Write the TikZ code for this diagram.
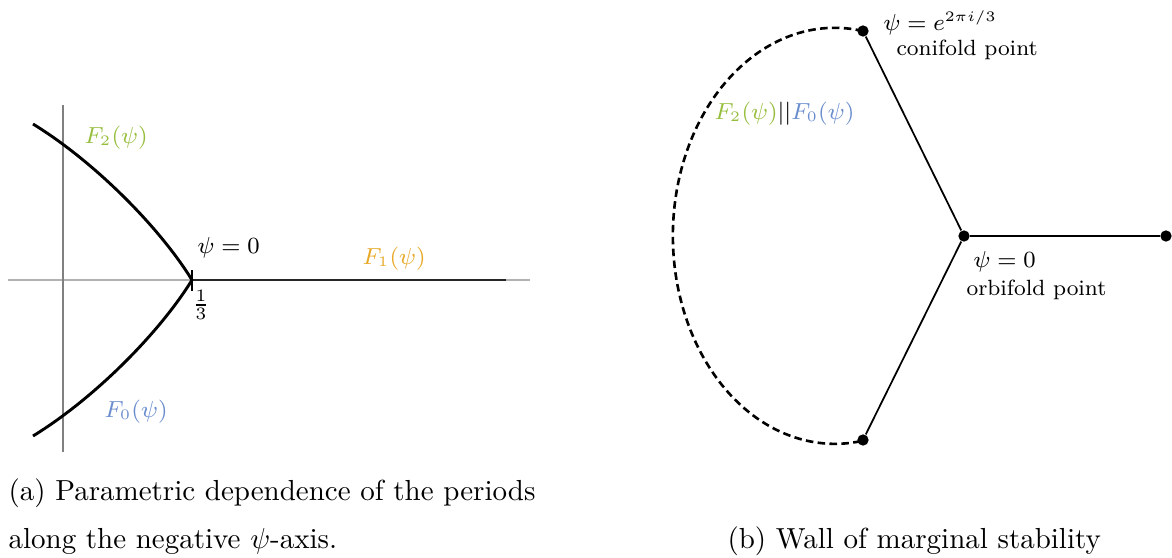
\documentclass[tikz,border=0pt]{standalone}
\usepackage{xcolor}
\definecolor{fgreen}{RGB}{150,190,60}
\definecolor{fblue}{RGB}{105,140,205}
\definecolor{forange}{RGB}{232,168,40}
\begin{document}
\begin{tikzpicture}[x=0.3448pt,y=-0.3448pt,
    dot/.style={circle,fill=black,inner sep=0pt,minimum size=3.9pt},
    lbl/.style={font=\fontsize{7.6}{9}\selectfont,inner sep=0pt,anchor=base west},
    captext/.style={inner sep=0pt,anchor=base west},
    wall/.style={line width=0.9pt,dash pattern=on 2.6pt off 1.5pt}]
\useasboundingbox (0,0) rectangle (1172,557);
% (a) periods along the negative psi-axis
\draw[gray!60] (8,280) -- (530,280);
\draw[gray] (63,105) -- (63,452);
\coordinate (cusp) at (192,280);
\coordinate (end1) at (506,280);
\coordinate (top2) at (33,124);
\coordinate (bot0) at (33,436);
\draw[line width=1pt,black!85] (cusp) -- (end1);
\draw[line width=1pt] (cusp) .. controls (160,228) and (95,162) .. (top2);
\draw[line width=1pt] (cusp) .. controls (160,332) and (95,398) .. (bot0);
\draw[line width=0.8pt] (192,270) -- (192,291);
\node[lbl] (psi0) at (197,253) {$\psi=0$};
\node[font=\footnotesize,inner sep=0pt] (third) at (201,305) {$\frac{1}{3}$};
\node[lbl,text=fgreen] (f2) at (84,143) {$F_2(\psi)$};
\node[lbl,text=fblue] (f0) at (104,417) {$F_0(\psi)$};
\node[lbl,text=forange] (f1) at (362,264) {$F_1(\psi)$};
\node[captext] (capa) at (8,500) {(a) Parametric dependence of the periods};
\node[captext] (capb) at (8,548) {along the negative $\psi$-axis.};
% (b) wall of marginal stability
\node[dot] (orb) at (964,236) {};
\node[dot] (con) at (863,31) {};
\node[dot] (conb) at (863,440) {};
\node[dot] (rgt) at (1166,236) {};
\draw[line width=0.6pt] (orb) -- (con);
\draw[line width=0.6pt] (orb) -- (conb);
\draw[line width=0.6pt] (orb) -- (rgt);
\draw[wall] (con.center) arc[start angle=-80,end angle=-280,x radius=162,y radius=208];
\node[lbl] (conpsi) at (883,30) {$\psi=e^{2\pi i/3}$};
\node[lbl] (contxt) at (896,55) {conifold point};
\node[lbl] (wlbl) at (714,119) {$\color{fgreen}F_2(\psi)\color{black}||\color{fblue}F_0(\psi)$};
\node[lbl] (orbpsi) at (973,267) {$\psi=0$};
\node[lbl] (orbtxt) at (966,295) {orbifold point};
\node[captext] (capc) at (727,548) {(b) Wall of marginal stability};
\end{tikzpicture}
\end{document}
